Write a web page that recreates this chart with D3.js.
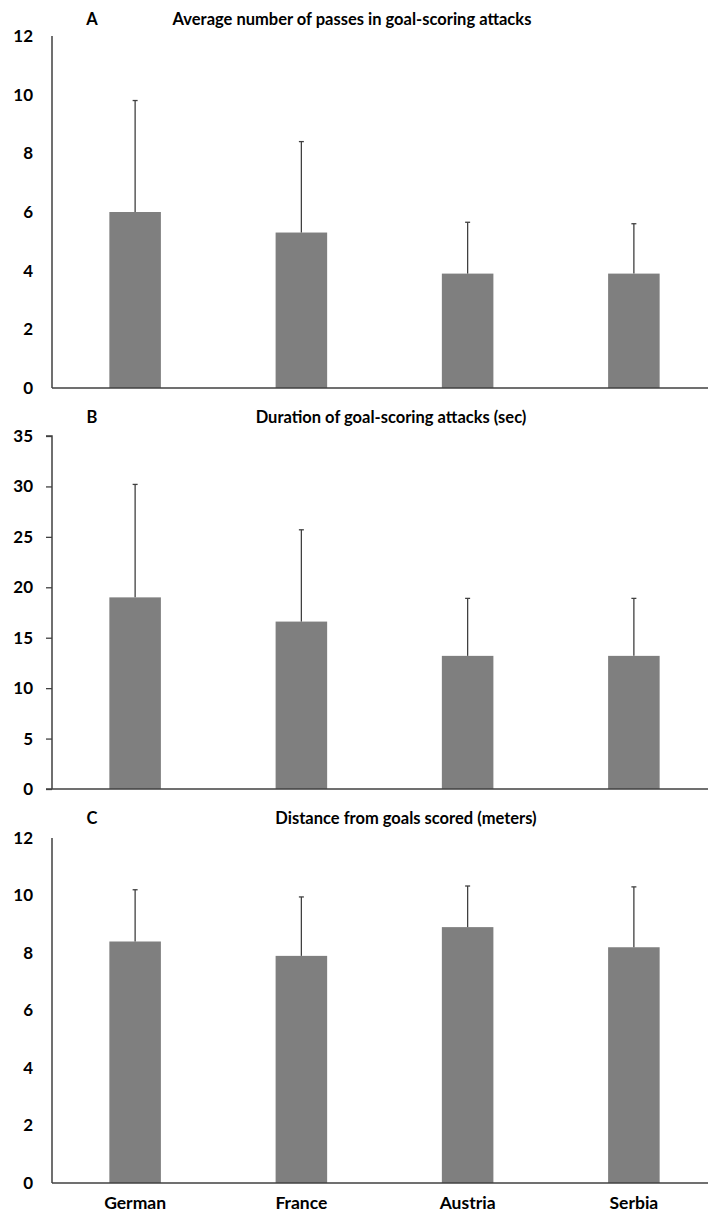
<!DOCTYPE html>
<html>
<head>
<meta charset="utf-8">
<script src="https://cdn.jsdelivr.net/npm/d3@7"></script>
<style>
  body { margin: 0; background: #fff; }
  text { font-family: Lato, "Open Sans", sans-serif; font-weight: bold; fill: #000; }
</style>
</head>
<body>
<div class="canvas"></div>
<script>
const countries = ["German", "France", "Austria", "Serbia"]

// A: passes
const passesMean = [6.0, 5.3, 3.9, 3.9]
const passesSD = [3.8, 3.1, 1.75, 1.7]
// B: duration (sec)
const durationMean = [19.0, 16.6, 13.2, 13.2]
const durationSD = [11.2, 9.1, 5.7, 5.7]
// C: distance (meters)
const distanceMean = [8.4, 7.9, 8.9, 8.2]
const distanceSD = [1.8, 2.05, 1.43, 2.1]

const ticksA = [0, 2, 4, 6, 8, 10, 12]
const ticksB = [0, 5, 10, 15, 20, 25, 30, 35]
const ticksC = [0, 2, 4, 6, 8, 10, 12]

const width = 708
const height = 1215

const svg = d3.select(".canvas")
    .append("svg")
    .attr("width", width)
    .attr("height", height)

const left = 52

const scaleX = d3.scaleBand()
    .domain(countries)
    .range([left, 717])
    .paddingInner(0.69)
    .paddingOuter(0.345)

const panels = [
    { letter: "A", title: "Average number of passes in goal-scoring attacks", titleX: 352, letterY: 25,
      top: 36, bottom: 388, ticks: ticksA, mean: passesMean, sd: passesSD, tickMarks: false },
    { letter: "B", title: "Duration of goal-scoring attacks  (sec)", titleX: 391, letterY: 423,
      top: 436, bottom: 789, ticks: ticksB, mean: durationMean, sd: durationSD, tickMarks: true },
    { letter: "C", title: "Distance from goals scored (meters)", titleX: 406, letterY: 824,
      top: 838, bottom: 1183, ticks: ticksC, mean: distanceMean, sd: distanceSD, tickMarks: false }
]

panels.forEach(p => {
    const g = svg.append("g")

    const scaleY = d3.scaleLinear()
        .domain([0, d3.max(p.ticks)])
        .range([p.bottom, p.top])

    // bars
    g.selectAll("rect")
        .data(countries)
        .enter()
        .append("rect")
        .attr("x", d => scaleX(d))
        .attr("width", scaleX.bandwidth())
        .attr("y", (d, i) => scaleY(p.mean[i]))
        .attr("height", (d, i) => p.bottom - scaleY(p.mean[i]))
        .attr("fill", "#7f7f7f")

    // error bars (upper only)
    const cx = d => scaleX(d) + scaleX.bandwidth() / 2
    g.selectAll("line.err")
        .data(countries)
        .enter()
        .append("line")
        .attr("class", "err")
        .attr("x1", cx).attr("x2", cx)
        .attr("y1", (d, i) => scaleY(p.mean[i]))
        .attr("y2", (d, i) => scaleY(p.mean[i] + p.sd[i]))
        .attr("stroke", "#404040")
        .attr("stroke-width", 1.3)
    g.selectAll("line.cap")
        .data(countries)
        .enter()
        .append("line")
        .attr("class", "cap")
        .attr("x1", d => cx(d) - 2.5).attr("x2", d => cx(d) + 2.5)
        .attr("y1", (d, i) => scaleY(p.mean[i] + p.sd[i]))
        .attr("y2", (d, i) => scaleY(p.mean[i] + p.sd[i]))
        .attr("stroke", "#404040")
        .attr("stroke-width", 1.3)

    // y axis
    const yAxis = d3.axisLeft(scaleY)
        .tickValues(p.ticks)
        .tickSize(p.tickMarks ? 6 : 0)
        .tickPadding(p.tickMarks ? 13 : 19)
        .tickFormat(d3.format("d"))
    const yg = g.append("g")
        .attr("transform", `translate(${left}, 0)`)
        .call(yAxis)
    yg.select(".domain").attr("stroke", "#404040").attr("stroke-width", 1.5)
    yg.selectAll(".tick line").attr("stroke", "#404040").attr("stroke-width", 1.3)
    yg.selectAll("text")
        .attr("font-size", 17)
        .attr("font-family", "Lato, sans-serif")
        .attr("font-weight", "bold")
    yg.select(".domain").attr("d", `M${p.tickMarks ? -6 : 0},${p.top}H0V${p.bottom}`)

    // x axis line
    g.append("line")
        .attr("x1", p.tickMarks ? left - 6 : left).attr("x2", width)
        .attr("y1", p.bottom).attr("y2", p.bottom)
        .attr("stroke", "#404040")
        .attr("stroke-width", 1.6)

    // letter and title
    g.append("text")
        .attr("x", 92).attr("y", p.letterY)
        .attr("text-anchor", "middle")
        .attr("font-size", 16.5)
        .text(p.letter)
    g.append("text")
        .attr("x", p.titleX).attr("y", p.letterY)
        .attr("text-anchor", "middle")
        .attr("font-size", 16.5)
        .text(p.title)
})

// category labels under the last panel
svg.append("g")
    .selectAll("text")
    .data(countries)
    .enter()
    .append("text")
    .attr("x", d => scaleX(d) + scaleX.bandwidth() / 2)
    .attr("y", 1209)
    .attr("text-anchor", "middle")
    .attr("font-size", 17.5)
    .text(d => d)
</script>
</body>
</html>
